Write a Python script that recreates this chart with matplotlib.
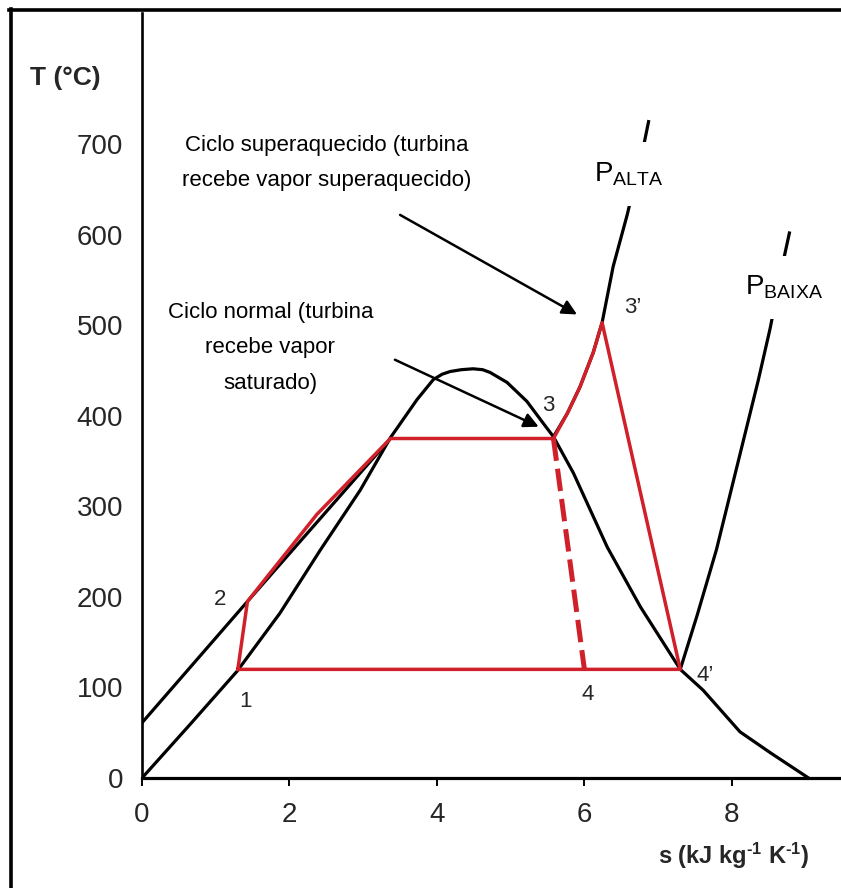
import matplotlib
matplotlib.use("Agg")
import matplotlib.pyplot as plt
from matplotlib.lines import Line2D

plt.rcParams['font.family'] = ['Liberation Sans', 'DejaVu Sans']
plt.rcParams['mathtext.fontset'] = 'custom'
plt.rcParams['mathtext.rm'] = 'Liberation Sans'
plt.rcParams['mathtext.bf'] = 'Liberation Sans:bold'
plt.rcParams['mathtext.default'] = 'regular'

# ---------------- data ----------------
# saturation dome
dome_s = [0, 0.65, 1.29, 1.87, 2.42, 2.96, 3.37, 3.73, 3.95, 4.07, 4.18, 4.33, 4.49,
          4.62, 4.72, 4.95, 5.22, 5.44, 5.58, 5.85, 6.31, 6.76, 7.30, 7.61, 8.11, 8.52, 9.04]
dome_T = [0, 59, 118, 182, 252, 318, 376, 418, 440, 446, 449, 451, 452,
          451, 448, 437, 416, 392, 377, 337, 255, 189, 120, 97, 51, 28, 0]

# compressed-liquid line at high pressure
liq_s = [0, 1.43, 3.37]
liq_T = [61, 195, 375]

# high-pressure isobar (superheated region)
palta_s = [5.58, 5.77, 5.94, 6.12, 6.24, 6.39, 6.58, 6.80, 6.87]
palta_T = [377, 403, 432, 470, 503, 565, 622, 697, 725]

# low-pressure isobar
pbaixa_s = [7.30, 7.53, 7.79, 8.36, 8.52, 8.70, 8.78]
pbaixa_T = [120, 180, 252, 440, 497, 572, 602]

# superheated cycle 1-2-3-3'-4'-1
cyc_s = [1.30, 1.43, 2.37, 3.37, 5.58, 5.77, 5.94, 6.12, 6.24, 7.30, 1.30]
cyc_T = [120, 195, 291, 375, 375, 403, 432, 470, 503, 120, 120]

# normal cycle expansion 3-4 (dashed)
exp_s = [5.58, 6.00]
exp_T = [375, 120]

# point labels
pt_names = ['1', '2', '3', "3\u2019", '4', "4\u2019"]
pt_s = [1.40, 1.06, 5.51, 6.65, 6.05, 7.64]
pt_T = [85, 197, 412, 520, 92, 113]

x_ticks = [0, 2, 4, 6, 8]
y_ticks = [0, 100, 200, 300, 400, 500, 600, 700]

RED = '#d0202a'
GRAY = '#262626'

fig = plt.figure(figsize=(8.41, 8.88), dpi=100)
ax = fig.add_axes([142/841, 110/888, 699/841, 765/888])
ax.set_xlim(0, 9.48)
ax.set_ylim(0, 845)

for sp in ['top', 'right']:
    ax.spines[sp].set_visible(False)
ax.spines['bottom'].set_linewidth(2.3)
ax.spines['left'].set_linewidth(1.9)

ax.set_xticks(x_ticks)
ax.set_yticks(y_ticks)
ax.tick_params(axis='x', direction='out', length=6, width=1.4, pad=11,
               labelsize=20, labelcolor=GRAY)
ax.tick_params(axis='y', length=0, pad=13.5, labelsize=20, labelcolor=GRAY)

# black curves
ax.plot(dome_s, dome_T, color='black', lw=2.3, solid_joinstyle='round', zorder=2)
ax.plot(liq_s, liq_T, color='black', lw=2.3, zorder=2)
ax.plot(palta_s, palta_T, color='black', lw=2.3, solid_joinstyle='round', zorder=2)
ax.plot(pbaixa_s, pbaixa_T, color='black', lw=2.3, solid_joinstyle='round', zorder=2)

# red cycle
ax.plot(cyc_s, cyc_T, color=RED, lw=2.5, solid_joinstyle='round', zorder=3)
ax.plot(exp_s, exp_T, color=RED, lw=3.6, ls=(0, (4.5, 1.6)), zorder=3)

for n, s, t in zip(pt_names, pt_s, pt_T):
    ax.text(s, t, n, fontsize=16, color=GRAY, ha='center', va='center', zorder=5)

# pressure labels with white boxes hiding the isobars
ax.text(6.60, 659, r'$\mathregular{P_{ALTA}}$', fontsize=20, ha='center', va='baseline',
        bbox=dict(facecolor='white', edgecolor='none', pad=13), zorder=4)
ax.text(8.71, 534, r'$\mathregular{P_{BAIXA}}$', fontsize=20, ha='center', va='baseline',
        bbox=dict(facecolor='white', edgecolor='none', pad=13), zorder=4)

# annotations
ax.text(2.51, 679, 'Ciclo superaquecido (turbina\nrecebe vapor superaquecido)',
        fontsize=16, ha='center', va='center', linespacing=1.85, zorder=5)
ax.text(1.74, 475, 'Ciclo normal (turbina\nrecebe vapor\nsaturado)',
        fontsize=16, ha='center', va='center', linespacing=1.9, zorder=5)

ax.annotate('', xy=(5.90, 512), xytext=(3.50, 622),
            arrowprops=dict(arrowstyle='-|>', mutation_scale=22, lw=1.8,
                            color='black', shrinkA=0, shrinkB=0), zorder=6)
ax.annotate('', xy=(5.38, 388), xytext=(3.43, 462),
            arrowprops=dict(arrowstyle='-|>', mutation_scale=22, lw=1.8,
                            color='black', shrinkA=0, shrinkB=0), zorder=6)

# axis labels
ax.set_xlabel('s (kJ kg$^{\u2010 1}$ K$^{\u2010 1}$)', fontsize=17, fontweight='bold',
              color=GRAY)
ax.xaxis.set_label_coords(0.847, -0.082)
ax.xaxis.label.set_va('top')
ax.set_ylabel('T (°C)', fontsize=19, fontweight='bold', rotation=0, color=GRAY)
ax.yaxis.set_label_coords(-0.110, 0.915)
ax.yaxis.label.set_va('center')
ax.yaxis.label.set_ha('center')

# frame lines (top and left only)
fig.add_artist(Line2D([9/841, 1], [1 - 10.5/888, 1 - 10.5/888], color='black', lw=2.6,
                      transform=fig.transFigure))
fig.add_artist(Line2D([10.5/841, 10.5/841], [0, 1 - 9/888], color='black', lw=2.6,
                      transform=fig.transFigure))

fig.savefig('out.png', dpi=100)
